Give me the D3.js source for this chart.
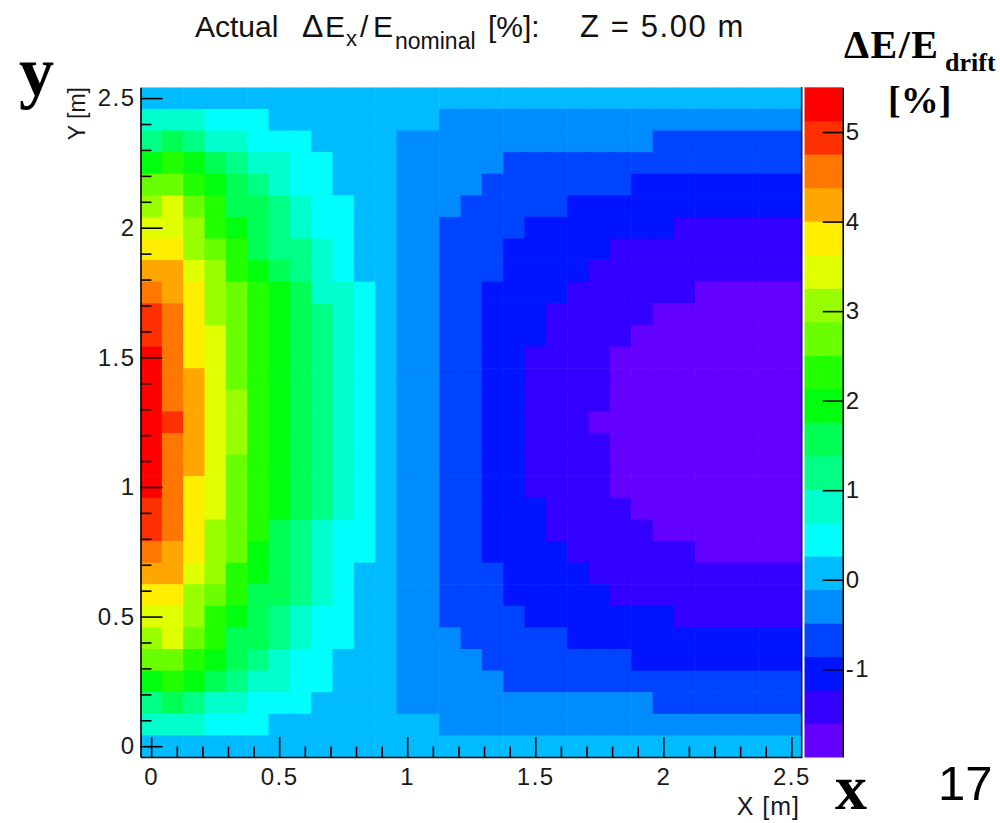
<!DOCTYPE html>
<html>
<head>
<meta charset="utf-8">
<script src="https://cdn.jsdelivr.net/npm/d3@7/dist/d3.min.js"></script>
<style>
  html, body { margin: 0; padding: 0; background: #fff; }
  svg { display: block; }
  .sans { font-family: "Liberation Sans", Arial, Helvetica, sans-serif; }
  .serif { font-family: "Liberation Serif", "Times New Roman", serif; font-weight: bold; }
</style>
</head>
<body>
<svg id="chart" width="1000" height="823"></svg>
<script>
// ---- data --------------------------------------------------------------
// Bin centres in metres: 31 bins per axis, 1/12 m apart.
const xCenters = [0,0.0833,0.1667,0.25,0.3333,0.4167,0.5,0.5833,0.6667,0.75,0.8333,0.9167,1,1.0833,1.1667,1.25,1.3333,1.4167,1.5,1.5833,1.6667,1.75,1.8333,1.9167,2,2.0833,2.1667,2.25,2.3333,2.4167,2.5];
// Rows listed from the top of the map (Y = 2.5 m) down to Y = 0.
const yCenters = [2.5,2.4167,2.3333,2.25,2.1667,2.0833,2,1.9167,1.8333,1.75,1.6667,1.5833,1.5,1.4167,1.3333,1.25,1.1667,1.0833,1,0.9167,0.8333,0.75,0.6667,0.5833,0.5,0.4167,0.3333,0.25,0.1667,0.0833,0];

// Actual ΔEx / E_nominal in percent, one array per row (same order as yCenters).
const dEx = [
  [0.1,0.1,0.1,0.1,0.1,0.1,0.1,0.1,0.1,0.1, 0.1,0.1,0.1,0.1,0.1,0.1,0.1,0.1,0.1,0.1, 0.1,0.1,0.1,0.1,0.1,0.1,0.1,0.1,0.1,0.1, 0.1],
  [0.8,0.8,0.8,0.4,0.4,0.4,0.1,0.1,0.1,0.1, 0.1,0.1,0.1,0.1,-0.3,-0.3,-0.3,-0.3,-0.3,-0.3, -0.3,-0.3,-0.3,-0.3,-0.3,-0.3,-0.3,-0.3,-0.3,-0.3, -0.3],
  [1.2,1.6,1.2,0.8,0.8,0.4,0.4,0.4,0.1,0.1, 0.1,0.1,-0.3,-0.3,-0.3,-0.3,-0.3,-0.3,-0.3,-0.3, -0.3,-0.3,-0.3,-0.3,-0.7,-0.7,-0.7,-0.7,-0.7,-0.7, -0.7],
  [1.9,2.3,1.9,1.6,1.2,0.8,0.8,0.4,0.4,0.1, 0.1,0.1,-0.3,-0.3,-0.3,-0.3,-0.3,-0.7,-0.7,-0.7, -0.7,-0.7,-0.7,-0.7,-0.7,-0.7,-0.7,-0.7,-0.7,-0.7, -0.7],
  [2.7,2.7,2.3,1.9,1.6,1.2,0.8,0.4,0.4,0.1, 0.1,0.1,-0.3,-0.3,-0.3,-0.3,-0.7,-0.7,-0.7,-0.7, -0.7,-0.7,-0.7,-1.0,-1.0,-1.0,-1.0,-1.0,-1.0,-1.0, -1.0],
  [3.1,3.4,2.7,2.3,1.6,1.6,1.2,0.8,0.4,0.4, 0.1,0.1,-0.3,-0.3,-0.3,-0.7,-0.7,-0.7,-0.7,-0.7, -1.0,-1.0,-1.0,-1.0,-1.0,-1.0,-1.0,-1.0,-1.0,-1.0, -1.0],
  [3.4,3.4,3.1,2.3,1.9,1.6,1.2,0.8,0.4,0.4, 0.1,0.1,-0.3,-0.3,-0.7,-0.7,-0.7,-0.7,-1.0,-1.0, -1.0,-1.0,-1.0,-1.0,-1.0,-1.4,-1.4,-1.4,-1.4,-1.4, -1.4],
  [3.8,3.8,3.1,2.7,2.3,1.6,1.2,1.2,0.8,0.4, 0.1,0.1,-0.3,-0.3,-0.7,-0.7,-0.7,-1.0,-1.0,-1.0, -1.0,-1.0,-1.4,-1.4,-1.4,-1.4,-1.4,-1.4,-1.4,-1.4, -1.4],
  [4.2,4.2,3.4,3.1,2.3,1.9,1.6,1.2,0.8,0.4, 0.1,0.1,-0.3,-0.3,-0.7,-0.7,-0.7,-1.0,-1.0,-1.0, -1.0,-1.4,-1.4,-1.4,-1.4,-1.4,-1.4,-1.4,-1.4,-1.4, -1.4],
  [4.6,4.2,3.8,3.1,2.7,2.3,1.9,1.6,0.8,0.8, 0.4,0.1,-0.3,-0.3,-0.7,-0.7,-1.0,-1.0,-1.0,-1.0, -1.4,-1.4,-1.4,-1.4,-1.4,-1.4,-1.8,-1.8,-1.8,-1.8, -1.8],
  [4.9,4.6,3.8,3.1,2.7,2.3,1.9,1.6,1.2,0.8, 0.4,0.1,-0.3,-0.3,-0.7,-0.7,-1.0,-1.0,-1.0,-1.4, -1.4,-1.4,-1.4,-1.4,-1.8,-1.8,-1.8,-1.8,-1.8,-1.8, -1.8],
  [4.9,4.6,3.8,3.4,2.7,2.3,1.9,1.6,1.2,0.8, 0.4,0.1,-0.3,-0.3,-0.7,-0.7,-1.0,-1.0,-1.0,-1.4, -1.4,-1.4,-1.4,-1.8,-1.8,-1.8,-1.8,-1.8,-1.8,-1.8, -1.8],
  [5.3,4.6,3.8,3.4,2.7,2.3,1.9,1.6,1.2,0.8, 0.4,0.1,-0.3,-0.3,-0.7,-0.7,-1.0,-1.0,-1.4,-1.4, -1.4,-1.4,-1.8,-1.8,-1.8,-1.8,-1.8,-1.8,-1.8,-1.8, -1.8],
  [5.3,4.6,4.2,3.4,2.7,2.3,1.9,1.6,1.2,0.8, 0.4,0.1,-0.3,-0.3,-0.7,-0.7,-1.0,-1.0,-1.4,-1.4, -1.4,-1.4,-1.8,-1.8,-1.8,-1.8,-1.8,-1.8,-1.8,-1.8, -1.8],
  [5.3,4.6,4.2,3.4,3.1,2.3,1.9,1.6,1.2,0.8, 0.4,0.1,-0.3,-0.3,-0.7,-0.7,-1.0,-1.0,-1.4,-1.4, -1.4,-1.4,-1.8,-1.8,-1.8,-1.8,-1.8,-1.8,-1.8,-1.8, -1.8],
  [5.5,4.9,4.2,3.4,3.1,2.3,1.9,1.6,1.2,0.8, 0.4,0.1,-0.3,-0.3,-0.7,-0.7,-1.0,-1.0,-1.4,-1.4, -1.4,-1.8,-1.8,-1.8,-1.8,-1.8,-1.8,-1.8,-1.8,-1.8, -1.98],
  [5.3,4.6,4.2,3.4,3.1,2.3,1.9,1.6,1.2,0.8, 0.4,0.1,-0.3,-0.3,-0.7,-0.7,-1.0,-1.0,-1.4,-1.4, -1.4,-1.4,-1.8,-1.8,-1.8,-1.8,-1.8,-1.8,-1.8,-1.8, -1.8],
  [5.3,4.6,4.2,3.4,2.7,2.3,1.9,1.6,1.2,0.8, 0.4,0.1,-0.3,-0.3,-0.7,-0.7,-1.0,-1.0,-1.4,-1.4, -1.4,-1.4,-1.8,-1.8,-1.8,-1.8,-1.8,-1.8,-1.8,-1.8, -1.8],
  [5.3,4.6,3.8,3.4,2.7,2.3,1.9,1.6,1.2,0.8, 0.4,0.1,-0.3,-0.3,-0.7,-0.7,-1.0,-1.0,-1.4,-1.4, -1.4,-1.4,-1.8,-1.8,-1.8,-1.8,-1.8,-1.8,-1.8,-1.8, -1.8],
  [4.9,4.6,3.8,3.4,2.7,2.3,1.9,1.6,1.2,0.8, 0.4,0.1,-0.3,-0.3,-0.7,-0.7,-1.0,-1.0,-1.0,-1.4, -1.4,-1.4,-1.4,-1.8,-1.8,-1.8,-1.8,-1.8,-1.8,-1.8, -1.8],
  [4.9,4.6,3.8,3.1,2.7,2.3,1.6,1.2,0.8,0.4, 0.4,0.1,-0.3,-0.3,-0.7,-0.7,-1.0,-1.0,-1.0,-1.4, -1.4,-1.4,-1.4,-1.4,-1.8,-1.8,-1.8,-1.8,-1.8,-1.8, -1.8],
  [4.6,4.2,3.8,3.1,2.7,1.9,1.6,1.2,0.8,0.4, 0.4,0.1,-0.3,-0.3,-0.7,-0.7,-1.0,-1.0,-1.0,-1.0, -1.4,-1.4,-1.4,-1.4,-1.4,-1.4,-1.8,-1.8,-1.8,-1.8, -1.8],
  [4.2,4.2,3.4,3.1,2.3,1.9,1.6,1.2,0.8,0.4, 0.1,0.1,-0.3,-0.3,-0.7,-0.7,-0.7,-1.0,-1.0,-1.0, -1.0,-1.4,-1.4,-1.4,-1.4,-1.4,-1.4,-1.4,-1.4,-1.4, -1.4],
  [3.8,3.8,3.1,2.7,2.3,1.6,1.6,1.2,0.8,0.4, 0.1,0.1,-0.3,-0.3,-0.7,-0.7,-0.7,-1.0,-1.0,-1.0, -1.0,-1.0,-1.4,-1.4,-1.4,-1.4,-1.4,-1.4,-1.4,-1.4, -1.4],
  [3.4,3.4,3.1,2.3,1.9,1.6,1.2,0.8,0.4,0.4, 0.1,0.1,-0.3,-0.3,-0.7,-0.7,-0.7,-0.7,-1.0,-1.0, -1.0,-1.0,-1.0,-1.0,-1.0,-1.4,-1.4,-1.4,-1.4,-1.4, -1.4],
  [3.1,3.4,2.7,2.3,1.6,1.6,1.2,0.8,0.4,0.4, 0.1,0.1,-0.3,-0.3,-0.3,-0.7,-0.7,-0.7,-0.7,-0.7, -1.0,-1.0,-1.0,-1.0,-1.0,-1.0,-1.0,-1.0,-1.0,-1.0, -1.0],
  [2.7,2.7,2.3,1.9,1.6,1.2,0.8,0.4,0.4,0.1, 0.1,0.1,-0.3,-0.3,-0.3,-0.3,-0.7,-0.7,-0.7,-0.7, -0.7,-0.7,-0.7,-1.0,-1.0,-1.0,-1.0,-1.0,-1.0,-1.0, -1.0],
  [1.9,2.3,1.9,1.6,1.2,0.8,0.8,0.4,0.4,0.1, 0.1,0.1,-0.3,-0.3,-0.3,-0.3,-0.3,-0.7,-0.7,-0.7, -0.7,-0.7,-0.7,-0.7,-0.7,-0.7,-0.7,-0.7,-0.7,-0.7, -0.7],
  [1.2,1.6,1.2,0.8,0.8,0.4,0.4,0.4,0.1,0.1, 0.1,0.1,-0.3,-0.3,-0.3,-0.3,-0.3,-0.3,-0.3,-0.3, -0.3,-0.3,-0.3,-0.3,-0.7,-0.7,-0.7,-0.7,-0.7,-0.7, -0.7],
  [0.8,0.8,0.8,0.4,0.4,0.4,0.1,0.1,0.1,0.1, 0.1,0.1,0.1,0.1,-0.3,-0.3,-0.3,-0.3,-0.3,-0.3, -0.3,-0.3,-0.3,-0.3,-0.3,-0.3,-0.3,-0.3,-0.3,-0.3, -0.3],
  [0.1,0.1,0.1,0.1,0.1,0.1,0.1,0.1,0.1,0.1, 0.1,0.1,0.1,0.1,0.1,0.1,0.1,0.1,0.1,0.1, 0.1,0.1,0.1,0.1,0.1,0.1,0.1,0.1,0.1,0.1, 0.1]
];

// Axis ticks and labels
const xTicks = [0, 0.5, 1, 1.5, 2, 2.5];
const xTickLabels = ["0", "0.5", "1", "1.5", "2", "2.5"];
const yTicks = [0, 0.5, 1, 1.5, 2, 2.5];
const yTickLabels = ["0", "0.5", "1", "1.5", "2", "2.5"];
const zTicks = [-1, 0, 1, 2, 3, 4, 5];
const zTickLabels = ["-1", "0", "1", "2", "3", "4", "5"];

// 20-level rainbow palette (violet -> red), one colour per contour band
const palette = ["#6300ff","#3300ff","#0014ff","#0044ff","#008bff","#00bbff","#00fffc","#00ffcc","#00ff85","#00ff55",
                 "#00ff0e","#22ff00","#69ff00","#99ff00","#e0ff00","#ffee00","#ffa700","#ff7700","#ff3000","#ff0000"];

// ---- layout -------------------------------------------------------------
const frame = { left: 140.5, right: 802, top: 87.3, bottom: 757 };
const barBox = { left: 804.5, right: 842.7 };
const axisColor = "#000";
const labelColor = "#1a1a1a";

const svg = d3.select("#chart");

const halfX = Math.abs(xCenters[1] - xCenters[0]) / 2;
const halfY = Math.abs(yCenters[1] - yCenters[0]) / 2;

const x = d3.scaleLinear()
  .domain([d3.min(xCenters) - halfX, d3.max(xCenters) + halfX])
  .range([frame.left, frame.right]);
const y = d3.scaleLinear()
  .domain([d3.min(yCenters) - halfY, d3.max(yCenters) + halfY])
  .range([frame.bottom, frame.top]);

const allValues = dEx.flat();
const zExtent = d3.extent(allValues);
const color = d3.scaleQuantize().domain(zExtent).range(palette);

// ---- cells --------------------------------------------------------------
svg.append("clipPath").attr("id", "plotClip")
  .append("rect")
  .attr("x", frame.left).attr("y", frame.top)
  .attr("width", frame.right - frame.left).attr("height", frame.bottom - frame.top);

const cells = [];
dEx.forEach((row, r) => row.forEach((v, c) => cells.push({ xc: xCenters[c], yc: yCenters[r], v })));

svg.append("g").attr("clip-path", "url(#plotClip)")
  .selectAll("rect").data(cells).join("rect")
  .attr("x", d => x(d.xc - halfX))
  .attr("y", d => y(d.yc + halfY))
  .attr("width", d => x(d.xc + halfX) - x(d.xc - halfX) + 0.6)
  .attr("height", d => y(d.yc - halfY) - y(d.yc + halfY) + 0.6)
  .attr("fill", d => color(d.v));

// ---- axes ---------------------------------------------------------------
function styleAxis(g, fontSize) {
  g.selectAll("path.domain").attr("stroke", axisColor).attr("stroke-width", 1.6);
  g.selectAll(".tick line").attr("stroke", axisColor).attr("stroke-width", 1.6);
  g.selectAll(".tick text")
    .attr("class", "sans")
    .attr("font-size", fontSize)
    .attr("fill", labelColor)
    .attr("letter-spacing", 1.5);
}

// minor ticks every 0.1 m
const minorX = x.ticks(25).filter(t => !xTicks.some(m => Math.abs(m - t) < 1e-6));
const minorY = y.ticks(25).filter(t => !yTicks.some(m => Math.abs(m - t) < 1e-6));

svg.append("g").attr("transform", `translate(0,${frame.bottom})`)
  .call(d3.axisBottom(x).tickValues(minorX).tickSizeInner(-10.5).tickSizeOuter(0).tickFormat(""))
  .call(g => { g.select("path.domain").remove(); styleAxis(g, 24); });
svg.append("g").attr("transform", `translate(${frame.left},0)`)
  .call(d3.axisLeft(y).tickValues(minorY).tickSizeInner(-11).tickSizeOuter(0).tickFormat(""))
  .call(g => { g.select("path.domain").remove(); styleAxis(g, 24); });

svg.append("g").attr("transform", `translate(0,${frame.bottom})`)
  .call(d3.axisBottom(x).tickValues(xTicks).tickSizeInner(-20).tickSizeOuter(0).tickPadding(11)
    .tickFormat((d, i) => xTickLabels[i]))
  .call(g => styleAxis(g, 24));
svg.append("g").attr("transform", `translate(${frame.left},0)`)
  .call(d3.axisLeft(y).tickValues(yTicks).tickSizeInner(-22).tickSizeOuter(0).tickPadding(5)
    .tickFormat((d, i) => yTickLabels[i]))
  .call(g => styleAxis(g, 24));

// right edge of the frame
svg.append("line")
  .attr("x1", frame.right - 0.3).attr("x2", frame.right - 0.3)
  .attr("y1", frame.top).attr("y2", frame.bottom)
  .attr("stroke", "#111").attr("stroke-width", 1.6);

// ---- colour bar ---------------------------------------------------------
const z = d3.scaleLinear().domain(zExtent).range([frame.bottom, frame.top]);
const bandEdges = [zExtent[0], ...color.thresholds(), zExtent[1]];
svg.append("g").selectAll("rect").data(palette).join("rect")
  .attr("x", barBox.left)
  .attr("width", barBox.right - barBox.left)
  .attr("y", (d, i) => z(bandEdges[i + 1]))
  .attr("height", (d, i) => z(bandEdges[i]) - z(bandEdges[i + 1]) + 0.5)
  .attr("fill", d => d);

svg.append("g").attr("transform", `translate(${barBox.right},0)`)
  .call(d3.axisRight(z).tickValues(zTicks).tickSizeInner(-20).tickSizeOuter(0).tickPadding(3)
    .tickFormat((d, i) => zTickLabels[i]))
  .call(g => styleAxis(g, 24));

// ---- titles -------------------------------------------------------------
const titleParts = [
  { t: "Actual", x: 195, y: 37, s: 30 },
  { t: "\u0394", x: 302, y: 37, s: 32 },
  { t: "E", x: 325, y: 37, s: 30 },
  { t: "x", x: 346, y: 46, s: 22 },
  { t: "/", x: 360, y: 37, s: 30 },
  { t: "E", x: 373, y: 37, s: 30 },
  { t: "nominal", x: 395, y: 49, s: 23 },
  { t: "[%]:", x: 488, y: 37, s: 30 },
  { t: "Z = 5.00 m", x: 580, y: 37, s: 31, ls: 1.6 }
];
svg.append("text").attr("class", "sans").attr("fill", "#111")
  .selectAll("tspan").data(titleParts).join("tspan")
  .attr("x", d => d.x).attr("y", d => d.y)
  .attr("font-size", d => d.s)
  .attr("letter-spacing", d => d.ls || 0)
  .text(d => d.t);

svg.append("text").attr("class", "sans")
  .attr("transform", "translate(85,87) rotate(-90)")
  .attr("text-anchor", "end")
  .attr("font-size", 23).attr("fill", labelColor)
  .text("Y [m]");

svg.append("text").attr("class", "sans")
  .attr("x", 800).attr("y", 815)
  .attr("text-anchor", "end")
  .attr("font-size", 25).attr("fill", labelColor).attr("letter-spacing", 1)
  .text("X [m]");

// ---- annotations --------------------------------------------------------
svg.append("text").attr("class", "serif").attr("x", 19).attr("y", 95)
  .attr("font-size", 70).attr("fill", "#000").text("y");
svg.append("text").attr("class", "serif").attr("x", 835).attr("y", 809)
  .attr("font-size", 64).attr("fill", "#000").text("x");
svg.append("text").attr("class", "sans").attr("x", 938).attr("y", 800)
  .attr("font-size", 49).attr("fill", "#000").text("17");

const barTitle = svg.append("text").attr("class", "serif").attr("fill", "#000");
barTitle.append("tspan").attr("x", 844).attr("y", 58).attr("font-size", 40).attr("letter-spacing", 1.5).text("\u0394E/E");
barTitle.append("tspan").attr("x", 945).attr("y", 71).attr("font-size", 26).text("drift");
svg.append("text").attr("class", "serif").attr("x", 888).attr("y", 113)
  .attr("font-size", 38).attr("fill", "#000").text("[%]");
</script>
</body>
</html>
